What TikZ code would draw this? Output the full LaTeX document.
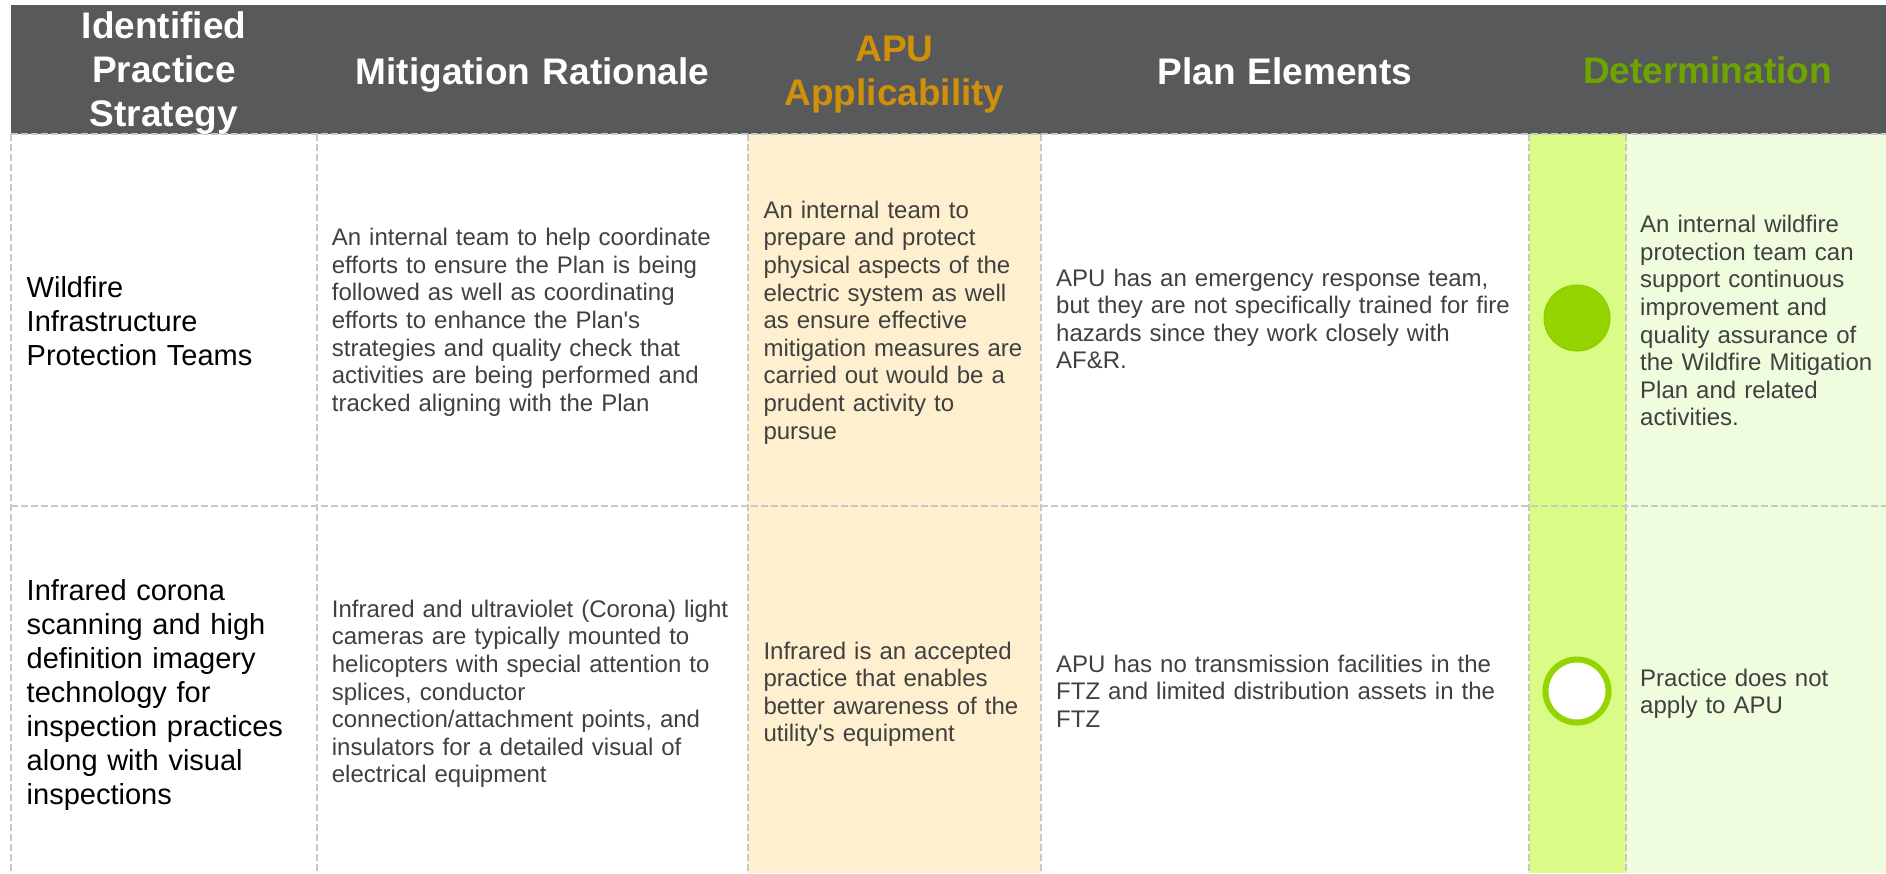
\documentclass[tikz,border=0pt]{standalone}
\usepackage{fontspec}
\setmainfont{Liberation Sans}[Ligatures=TeXOff]
\definecolor{headgray}{HTML}{58595B}
\definecolor{gridgray}{HTML}{C8C8C8}
\definecolor{bodygray}{HTML}{404040}
\definecolor{applyorange}{HTML}{D0900A}
\definecolor{detgreen}{HTML}{6EA400}
\definecolor{applybg}{HTML}{FEEFCF}
\definecolor{dotbg}{HTML}{DAFC86}
\definecolor{detbg}{HTML}{EFFCDE}
\definecolor{dotgreen}{HTML}{94D400}
\definecolor{dotedge}{HTML}{8CCB00}
\begin{document}
\begin{tikzpicture}[x=1pt,y=-1pt,
  gridline/.style={draw=gridgray, line width=1.3pt, dash pattern=on 7pt off 3pt},
  hdr/.style={font=\fontsize{37}{44}\selectfont\bfseries, text=white,
    align=center, inner sep=0pt, anchor=base, text width=#1},
  strat/.style={font=\fontsize{29}{34}\selectfont, text=black,
    align=left, inner sep=0pt, anchor=base west, text width=300pt},
  cell/.style={font=\fontsize{24}{27.6}\selectfont, text=bodygray,
    align=left, inner sep=0pt, anchor=base west, text width=#1},
]
\useasboundingbox (0,0) rectangle (1886,873);

% column backgrounds
\fill[applybg] (748,134) rectangle (1041,873);
\fill[dotbg]   (1529,134) rectangle (1626,873);
\fill[detbg]   (1626,134) rectangle (1886,873);

% header band
\fill[headgray] (11,5) rectangle (1886,134);

% table rules
\foreach \xx in {11,317,748,1041,1529,1626}
  \draw[gridline] (\xx,134) -- (\xx,873);
\draw[gridline] (11,134) -- (1886,134);
\draw[gridline] (11,506) -- (1886,506);

% header labels
\node[hdr=300pt] (hStrat) at (164,38) {Identified\\Practice\\Strategy};
\node[hdr=420pt] (hRat) at (532.5,84) {Mitigation Rationale};
\node[hdr=290pt, text=applyorange] (hApp) at (894.5,61) {APU\\Applicability};
\node[hdr=480pt] (hPlan) at (1285,84) {Plan Elements};
\node[hdr=350pt, text=detgreen] (hDet) at (1707.5,83) {Determination};

% row 1
\node[strat] (s1) at (26.5,297) {Wildfire\\Infrastructure\\Protection Teams};
\node[cell=410pt] (r1) at (331.7,245.7) {An internal team to help coordinate\\efforts to ensure the Plan is being\\followed as well as coordinating\\efforts to enhance the Plan's\\strategies and quality check that\\activities are being performed and\\tracked aligning with the Plan};
\node[cell=275pt] (a1) at (763.3,218.3) {An internal team to\\prepare and protect\\physical aspects of the\\electric system as well\\as ensure effective\\mitigation measures are\\carried out would be a\\prudent activity to\\pursue};
\node[cell=465pt] (p1) at (1056,286) {APU has an emergency response team,\\but they are not specifically trained for fire\\hazards since they work closely with\\AF\&R.};
\node[circle, fill=dotgreen, draw=dotedge, line width=1pt, minimum size=66pt, inner sep=0pt] (d1) at (1577,318) {};
\node[cell=245pt] (e1) at (1640,232.7) {An internal wildfire\\protection team can\\support continuous\\improvement and\\quality assurance of\\the Wildfire Mitigation\\Plan and related\\activities.};

% row 2
\node[strat] (s2) at (26.5,600) {Infrared corona\\scanning and high\\definition imagery\\technology for\\inspection practices\\along with visual\\inspections};
\node[cell=410pt] (r2) at (331.7,617.3) {Infrared and ultraviolet (Corona) light\\cameras are typically mounted to\\helicopters with special attention to\\splices, conductor\\connection/attachment points, and\\insulators for a detailed visual of\\electrical equipment};
\node[cell=275pt] (a2) at (763.3,659) {Infrared is an accepted\\practice that enables\\better awareness of the\\utility's equipment};
\node[cell=465pt] (p2) at (1056,672) {APU has no transmission facilities in the\\FTZ and limited distribution assets in the\\FTZ};
\node[circle, fill=white, draw=dotgreen, line width=6pt, minimum size=63pt, inner sep=0pt] (d2) at (1577,691) {};
\node[cell=245pt] (e2) at (1640,686) {Practice does not\\apply to APU};
\end{tikzpicture}
\end{document}
